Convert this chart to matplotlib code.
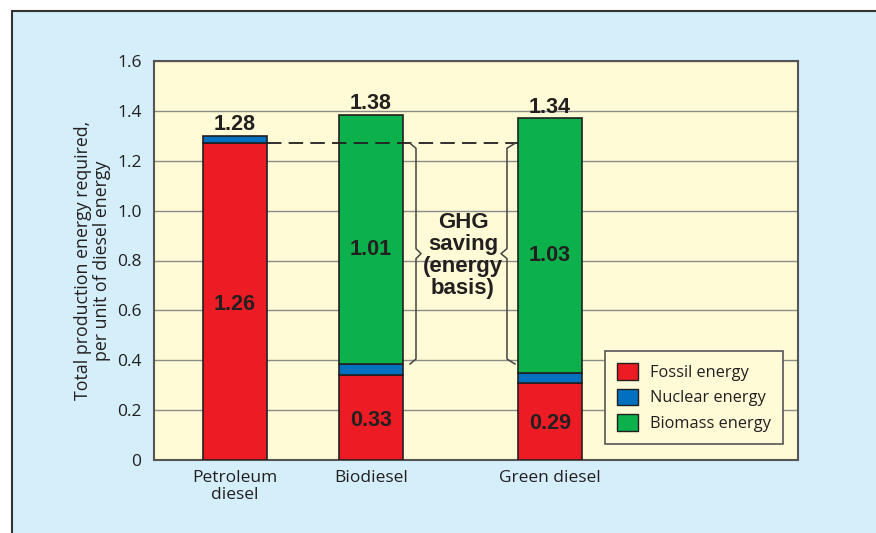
import matplotlib
matplotlib.use('Agg')
import matplotlib.pyplot as plt
from matplotlib.patches import Rectangle, Patch

# data
fuels = ['Petroleum\ndiesel', 'Biodiesel', 'Green diesel']
xpos = [0.81, 2.17, 3.96]
fossil = [1.27, 0.34, 0.31]
nuclear = [0.03, 0.045, 0.04]
biomass = [0.0, 1.0, 1.02]

total_labels = ['1.28', '1.38', '1.34']
fossil_labels = ['1.26', '0.33', '0.29']
biomass_labels = ['', '1.01', '1.03']
petroleum_level = 1.27

red = '#ed1c24'
blue = '#0070bf'
green = '#0db14b'
dark = '#231f20'
axbg = '#fffbd6'
figbg = '#d4eefa'

plt.rcParams['font.family'] = ['Open Sans', 'DejaVu Sans']

fig = plt.figure(figsize=(8.76, 5.33), dpi=100, facecolor='white')
# light blue panel with border, running off right and bottom edge
fig.patches.append(Rectangle((12/876, -0.1), 1.1, (533-11)/533 + 0.1,
                             transform=fig.transFigure, facecolor=figbg,
                             edgecolor='#333333', lw=1.5, zorder=-10))

ax = fig.add_axes([154/876, 73/533, 644/876, 399/533])
ax.set_facecolor(axbg)
w = 0.64
ec = dict(edgecolor=dark, linewidth=1.2, zorder=3)
bot2 = [f + n for f, n in zip(fossil, nuclear)]
ax.bar(xpos, fossil, w, color=red, **ec)
ax.bar(xpos, nuclear, w, bottom=fossil, color=blue, **ec)
ax.bar(xpos[1:], biomass[1:], w, bottom=bot2[1:], color=green, **ec)

tops = [b + m for b, m in zip(bot2, biomass)]
bold = dict(family='Liberation Sans', fontweight='bold', fontstretch='normal',
            fontsize=15.5, color=dark, ha='center', zorder=5)
for x, t, lab in zip(xpos, tops, total_labels):
    ax.annotate(lab, (x, t), xytext=(0, 4), textcoords='offset points',
                va='baseline', **bold)
for x, f, lab in zip(xpos, fossil, fossil_labels):
    ax.text(x, f / 2, lab, va='center_baseline', **bold)
for x, b, m, lab in zip(xpos, bot2, biomass, biomass_labels):
    if lab:
        ax.text(x, b + m / 2 - 0.03, lab, va='center_baseline', **bold)

# dashed reference line at petroleum level
ax.plot([xpos[0] + w/2, xpos[2] - w/2], [petroleum_level, petroleum_level],
        color=dark, lw=1.3, dashes=(8, 4), zorder=4)

# braces
top, bot = petroleum_level, bot2[1]
mid = (top + bot) / 2
d = 0.02
def brace(xe, xv, xt):
    ax.plot([xe, xv, xv, xt, xv, xv, xe],
            [top, top - d, mid + d, mid, mid - d, bot + d, bot],
            color='#444444', lw=1.1, zorder=4)
bx = xpos[1] + w/2
brace(bx + 0.07, bx + 0.13, bx + 0.18)
gx = xpos[2] - w/2
brace(gx - 0.03, gx - 0.11, gx - 0.17)
ax.text(3.09, 0.82, 'GHG\nsaving\n(energy\nbasis)', ha='center', va='center',
        family='Liberation Sans', fontweight='bold', fontstretch='normal',
        fontsize=16, color=dark, linespacing=1.08, zorder=5)

ax.set_xlim(0, 6.44)
ax.set_ylim(0, 1.6)
ax.set_yticks([0, 0.2, 0.4, 0.6, 0.8, 1.0, 1.2, 1.4, 1.6])
ax.set_yticklabels(['0', '0.2', '0.4', '0.6', '0.8', '1.0', '1.2', '1.4', '1.6'])
ax.set_xticks(xpos)
ax.set_xticklabels(fuels, linespacing=1.1)
ax.tick_params(axis='both', length=0, labelsize=12.5, colors=dark)
ax.tick_params(axis='y', pad=9)
ax.tick_params(axis='x', pad=7)
ax.yaxis.grid(True, color='#8c8c8c', lw=1)
ax.set_axisbelow(True)
for s in ax.spines.values():
    s.set_color('#555555')
    s.set_linewidth(1.5)
ax.set_ylabel('Total production energy required,\nper unit of diesel energy',
              fontsize=12.8, color=dark, labelpad=4, linespacing=1.12)

handles = [Patch(facecolor=red, edgecolor=dark, lw=1),
           Patch(facecolor=blue, edgecolor=dark, lw=1),
           Patch(facecolor=green, edgecolor=dark, lw=1)]
leg = ax.legend(handles, ['Fossil energy', 'Nuclear energy', 'Biomass energy'],
                loc='lower right', bbox_to_anchor=(0.977, 0.04), fontsize=11.8,
                fancybox=False, framealpha=1, facecolor=axbg, edgecolor='#555555',
                handlelength=1.3, handleheight=1.2, handletextpad=0.7,
                labelspacing=0.45, borderpad=0.75, borderaxespad=0)
leg.get_frame().set_linewidth(1.2)
for t in leg.get_texts():
    t.set_color(dark)
leg.set_zorder(6)

fig.savefig('out.png', dpi=100, facecolor=fig.get_facecolor())
